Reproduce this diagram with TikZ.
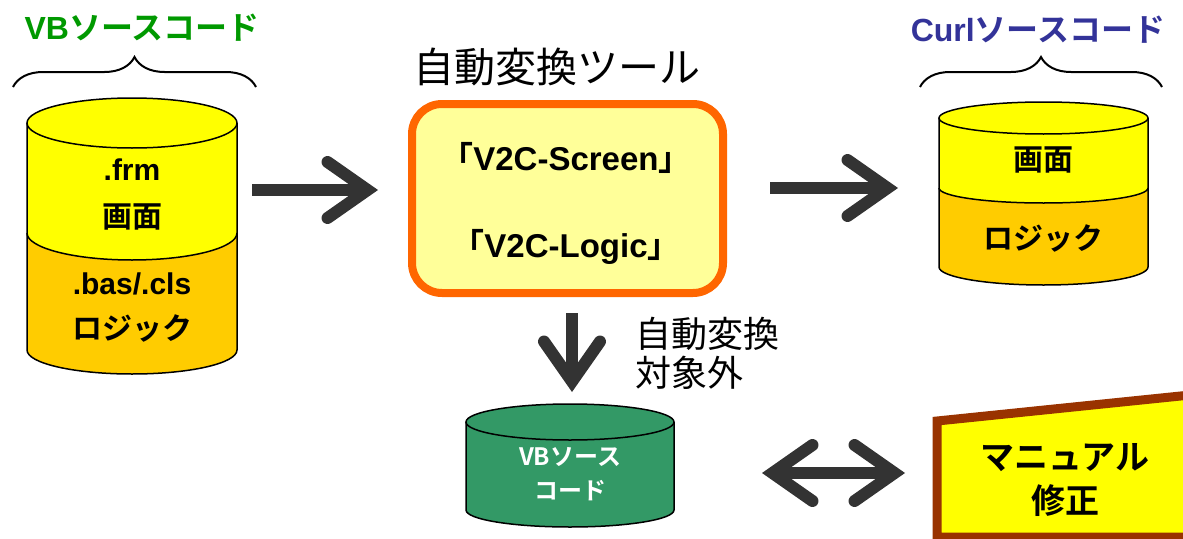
\documentclass[tikz,border=0pt]{standalone}
\usepackage{fontspec}
\setmainfont{Liberation Sans}
\newfontfamily\jp{Noto Sans CJK JP}[BoldFont={Noto Sans CJK JP Bold}]
\usetikzlibrary{calc,arrows.meta,decorations.pathreplacing}

\definecolor{arrowgray}{RGB}{51,51,51}
\definecolor{vbgreen}{RGB}{0,153,0}
\definecolor{curlblue}{RGB}{51,51,153}
\definecolor{screenyellow}{RGB}{255,255,0}
\definecolor{logicorange}{RGB}{255,204,0}
\definecolor{toolfill}{RGB}{255,255,153}
\definecolor{toolorange}{RGB}{255,102,0}
\definecolor{restgreen}{RGB}{51,153,102}
\definecolor{manualbrown}{RGB}{153,51,0}

\tikzset{
  bigarrow/.style={arrowgray, line width=12pt,
    -{Straight Barb[length=40pt, width=56pt, line width=0pt 1, line cap=round, line join=miter]}},
  bigdarrow/.style={arrowgray, line width=12pt,
    {Straight Barb[length=40pt, width=56pt, line width=0pt 1, line cap=round, line join=miter]}-{Straight Barb[length=40pt, width=56pt, line width=0pt 1, line cap=round, line join=miter]}},
  cyltext/.style={font=\bfseries\fontsize{30}{32}\selectfont},
  headtext/.style={font=\bfseries\fontsize{32}{34}\selectfont},
}

\begin{document}
\begin{tikzpicture}[x=1pt, y=-1pt]
    \useasboundingbox (0,0) rectangle (1183,538);

    % draw VB source cylinder
    \fill[logicorange] (27,233) -- (27,350) arc[start angle=180, end angle=360, x radius=105pt, y radius=24pt]
        -- (237,233) arc[start angle=360, end angle=180, x radius=105pt, y radius=27pt] -- cycle;
    \fill[screenyellow] (27,123) -- (27,233) arc[start angle=180, end angle=360, x radius=105pt, y radius=27pt]
        -- (237,123) -- cycle;
    \draw[line width=1.5pt, fill=screenyellow] (132,123) ellipse[x radius=105pt, y radius=25pt];
    \draw[line width=1.5pt] (27,233) arc[start angle=180, end angle=360, x radius=105pt, y radius=27pt];
    \draw[line width=1.5pt] (27,123) -- (27,350) arc[start angle=180, end angle=360, x radius=105pt, y radius=24pt] -- (237,123);

    \node (frm) [cyltext] at (132,170) {.frm};
    \node (vbscreen) [cyltext] at (132,217) {\jp\bfseries 画面};
    \node (bas) [cyltext] at (132,284) {.bas/.cls};
    \node (vblogic) [cyltext] at (132,328) {\jp\bfseries ロジック};

    % draw braces and titles
    \draw[line width=2pt, decorate, decoration={brace, amplitude=30pt}] (13,87) -- (256,87);
    \node (vbtitle) [headtext, vbgreen] at (142,28) {VB{\jp ソースコード}};
    \draw[line width=2pt, decorate, decoration={brace, amplitude=30pt}] (920,87) -- (1162,87);
    \node (curltitle) [headtext, curlblue] at (1038,30) {Curl{\jp ソースコード}};

    % draw tool box
    \node (tooltitle) [font=\jp\fontsize{41}{43}\selectfont] at (557,67) {自動変換ツール};
    \node (tool) [draw=toolorange, line width=8pt, rounded corners=30pt, fill=toolfill,
        minimum width=311pt, minimum height=189pt] at (567.5,198.5) {};
    \node (screen) [font=\bfseries\fontsize{33}{35}\selectfont] at (566,158) {{\jp 「}V2C-Screen{\jp 」}};
    \node (logic) [font=\bfseries\fontsize{33}{35}\selectfont] at (566,247) {{\jp 「}V2C-Logic{\jp 」}};

    % draw Curl source cylinder
    \fill[logicorange] (939,188) -- (939,267) arc[start angle=180, end angle=360, x radius=104.5pt, y radius=18pt]
        -- (1148,188) arc[start angle=360, end angle=180, x radius=104.5pt, y radius=15pt] -- cycle;
    \fill[screenyellow] (939,118) -- (939,188) arc[start angle=180, end angle=360, x radius=104.5pt, y radius=15pt]
        -- (1148,118) -- cycle;
    \draw[line width=1.5pt, fill=screenyellow] (1043.5,118) ellipse[x radius=104.5pt, y radius=16pt];
    \draw[line width=1.5pt] (939,188) arc[start angle=180, end angle=360, x radius=104.5pt, y radius=15pt];
    \draw[line width=1.5pt] (939,118) -- (939,267) arc[start angle=180, end angle=360, x radius=104.5pt, y radius=18pt] -- (1148,118);

    \node (curlscreen) [cyltext] at (1043,160) {\jp\bfseries 画面};
    \node (curllogic) [cyltext] at (1043,238) {\jp\bfseries ロジック};

    % draw remaining VB source cylinder
    \draw[line width=1.5pt, fill=restgreen] (466,422) -- (466,510) arc[start angle=180, end angle=360, x radius=104pt, y radius=17pt] -- (674,422);
    \draw[line width=1.5pt, fill=restgreen] (570,422) ellipse[x radius=104pt, y radius=18pt];
    \node (resttext) [white, font=\jp\bfseries\fontsize{24}{34}\selectfont, align=center] at (570,474) {VBソース\\コード};

    \node (outside) [font=\jp\fontsize{36}{39}\selectfont, align=left, anchor=west] at (632,353) {自動変換\\対象外};

    % draw manual fix box
    \draw[line width=9pt, draw=manualbrown, fill=screenyellow] (937,421) -- (1200,394) -- (1200,537) -- (937,537) -- cycle;
    \node (manual) [font=\jp\bfseries\fontsize{34}{44}\selectfont, align=center] at (1065,480) {マニュアル\\修正};

    % draw arrows
    \coordinate (a1) at (252,190);
    \coordinate (a2) at (378,190);
    \coordinate (b1) at (770,188);
    \coordinate (b2) at (898,188);
    \coordinate (c1) at (572,313);
    \coordinate (c2) at (572,392);
    \coordinate (d1) at (762,473);
    \coordinate (d2) at (905,473);
    \draw[bigarrow] (a1) -- (a2);
    \draw[bigarrow] (b1) -- (b2);
    \draw[bigarrow] (c1) -- (c2);
    \draw[bigdarrow] (d1) -- (d2);
\end{tikzpicture}
\end{document}
